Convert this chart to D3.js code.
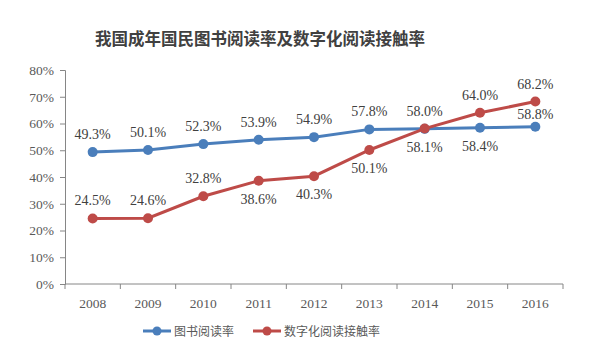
<!DOCTYPE html>
<html>
<head>
<meta charset="utf-8">
<script src="https://cdn.jsdelivr.net/npm/d3@7"></script>
<style>
  body { margin: 0; background: #fff; }
  .axis path, .axis line { stroke: #868686; }
  .axis text { font-family: "Liberation Serif", serif; font-size: 13.5px; fill: #595959; }
</style>
</head>
<body>
<div id="chart"></div>
<script>
// Chart data
var years = ["2008", "2009", "2010", "2011", "2012", "2013", "2014", "2015", "2016"];
var bookRate = [49.3, 50.1, 52.3, 53.9, 54.9, 57.8, 58.0, 58.4, 58.8];
var digitalRate = [24.5, 24.6, 32.8, 38.6, 40.3, 50.1, 58.1, 64.0, 68.2];
var yTicks = [0, 10, 20, 30, 40, 50, 60, 70, 80];
var seriesNames = ["图书阅读率", "数字化阅读接触率"];

// label placement per point: "up" or "down"
var bookLabelPos = ["up", "up", "up", "up", "up", "up", "up", "down", "upSmall"];
var digitalLabelPos = ["up", "up", "up", "down", "down", "down", "down", "up", "up"];

var svgWidth = 600;
var svgHeight = 361;
var margin = { top: 70, right: 37, bottom: 77, left: 65 };
var chartWidth = svgWidth - margin.left - margin.right;
var chartHeight = svgHeight - margin.top - margin.bottom;

var svg = d3.select("#chart")
  .append("svg")
  .attr("width", svgWidth)
  .attr("height", svgHeight);

// Title
svg.append("text")
  .attr("x", 260)
  .attr("y", 45)
  .attr("text-anchor", "middle")
  .style("font-family", "'Noto Sans CJK SC', sans-serif")
  .style("font-size", "16.5px")
  .style("font-weight", "bold")
  .style("fill", "#404040")
  .text("我国成年国民图书阅读率及数字化阅读接触率");

var chartGroup = svg.append("g")
  .attr("transform", `translate(${margin.left}, ${margin.top})`);

var xScale = d3.scaleBand()
  .domain(years)
  .range([0, chartWidth]);

var yScale = d3.scaleLinear()
  .domain([0, 80])
  .range([chartHeight, 0]);

// Y axis
var leftAxis = d3.axisLeft(yScale)
  .tickValues(yTicks)
  .tickSize(5)
  .tickPadding(6)
  .tickFormat(d => d + "%");

chartGroup.append("g")
  .classed("axis", true)
  .call(leftAxis);

// X axis, ticks at band edges
var bottomAxis = d3.axisBottom(xScale)
  .tickSize(0)
  .tickPadding(14);

var xAxisG = chartGroup.append("g")
  .classed("axis", true)
  .attr("transform", `translate(0, ${chartHeight})`)
  .call(bottomAxis);
xAxisG.select(".domain").attr("d", `M0,0H${chartWidth}`);

var edges = years.map(d => xScale(d)).concat([chartWidth]);
xAxisG.selectAll(".edge-tick")
  .data(edges)
  .enter()
  .append("line")
  .attr("x1", d => d)
  .attr("x2", d => d)
  .attr("y1", 0)
  .attr("y2", 5)
  .attr("stroke", "#868686");

var cx = d => xScale(d) + xScale.bandwidth() / 2;

function drawSeries(values, color, labelPos) {
  var data = years.map((y, i) => ({ year: y, value: values[i], pos: labelPos[i] }));

  var drawLine = d3.line()
    .x(d => cx(d.year))
    .y(d => yScale(d.value));

  chartGroup.append("path")
    .attr("d", drawLine(data))
    .attr("fill", "none")
    .attr("stroke", color)
    .attr("stroke-width", 3);

  chartGroup.selectAll(null)
    .data(data)
    .enter()
    .append("circle")
    .attr("cx", d => cx(d.year))
    .attr("cy", d => yScale(d.value))
    .attr("r", 5)
    .attr("fill", color);

  chartGroup.selectAll(null)
    .data(data)
    .enter()
    .append("text")
    .attr("x", d => cx(d.year))
    .attr("y", function(d) {
      var y = yScale(d.value);
      if (d.pos === "down") return y + 23;
      if (d.pos === "upSmall") return y - 8;
      return y - 13;
    })
    .attr("text-anchor", "middle")
    .style("font-family", "'Liberation Serif', serif")
    .style("font-size", "14px")
    .style("fill", "#404040")
    .text(d => d.value.toFixed(1) + "%");
}

drawSeries(bookRate, "#4a7ebb", bookLabelPos);
drawSeries(digitalRate, "#be4b48", digitalLabelPos);

// Legend
var legendItems = [
  { name: seriesNames[0], color: "#4a7ebb", x: 143 },
  { name: seriesNames[1], color: "#be4b48", x: 253 }
];
var legend = svg.selectAll(".legend")
  .data(legendItems)
  .enter()
  .append("g")
  .attr("transform", d => `translate(${d.x}, 331)`);

legend.append("line")
  .attr("x1", 0)
  .attr("x2", 28)
  .attr("stroke", d => d.color)
  .attr("stroke-width", 3);
legend.append("circle")
  .attr("cx", 14)
  .attr("r", 4.5)
  .attr("fill", d => d.color);
legend.append("text")
  .attr("x", 31)
  .attr("y", 4.5)
  .style("font-family", "'Noto Sans CJK SC', sans-serif")
  .style("font-size", "12px")
  .style("fill", "#595959")
  .text(d => d.name);
</script>
</body>
</html>
